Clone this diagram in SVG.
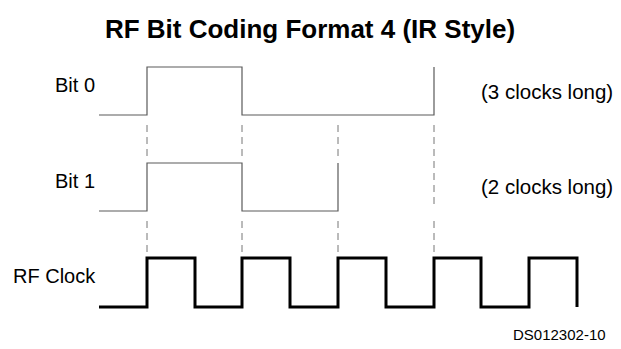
<svg xmlns="http://www.w3.org/2000/svg" width="621" height="349" viewBox="0 0 621 349">
<style>
text{font-family:"Liberation Sans",Arial,sans-serif;fill:#000}
.lbl{font-size:20px}
.rlbl{font-size:20.5px}
.title{font-size:26px;font-weight:bold}
.note{font-size:15px}
.sig{fill:none;stroke:#5a5a5a;stroke-width:1.2}
.clk{fill:none;stroke:#000;stroke-width:3;stroke-linejoin:miter}
.dash{fill:none;stroke:#777;stroke-width:1;stroke-dasharray:7,5}
</style>
<rect width="621" height="349" fill="#fff"/>
<text class="title" x="310" y="38" text-anchor="middle">RF Bit Coding Format 4 (IR Style)</text>
<g id="bit0">
<text class="lbl" x="55" y="92">Bit 0</text>
<path class="sig" d="M99,115 H147 V67 H242 V115 H434 V67"/>
<text class="rlbl" x="481" y="99">(3 clocks long)</text>
</g>
<g id="bit1">
<text class="lbl" x="55" y="188">Bit 1</text>
<path class="sig" d="M99,211 H147 V163 H242 V211 H338 V163"/>
<text class="rlbl" x="481" y="194">(2 clocks long)</text>
</g>
<g id="clock">
<text class="lbl" x="13" y="283">RF Clock</text>
<path class="clk" d="M99,307 H147 V258 H195 V307 H242 V258 H290 V307 H338 V258 H386 V307 H434 V258 H481 V307 H529 V258 H577 V307"/>
</g>
<g id="connectors">
<path class="dash" d="M147,125 V157 M242,125 V157 M338,125 V157 M434,125 V205 M147,221 V252 M242,221 V252 M338,221 V252 M434,221 V252"/>
</g>
<text class="note" x="513" y="340">DS012302-10</text>
</svg>
